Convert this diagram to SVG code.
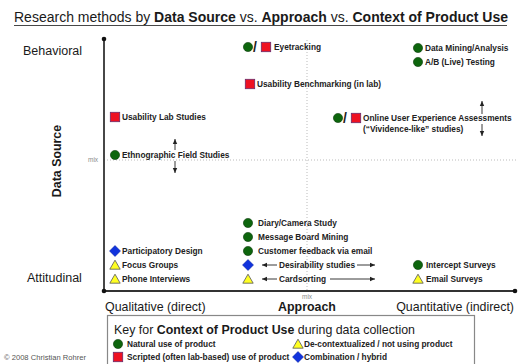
<svg xmlns="http://www.w3.org/2000/svg" xmlns:xlink="http://www.w3.org/1999/xlink" width="518" height="364" viewBox="0 0 518 364">
<style>
text{font-family:"Liberation Sans",Arial,sans-serif;fill:#1a1a1a}
.it{font-size:8.3px;font-weight:bold;fill:#222}
.b{font-weight:bold}
.ax{font-size:12.4px}
.mix{font-size:6.5px;fill:#8a8a8a}
.dot{stroke:#bbb;stroke-width:1;stroke-dasharray:1,2;fill:none}
.arr{stroke:#222;stroke-width:0.9;fill:none}
</style>
<defs>
<circle id="g" r="4.6" fill="#0d650d" stroke="#0a3a0a" stroke-width="0.6"/>
<rect id="r" x="-4.7" y="-4.7" width="9.4" height="9.4" fill="#ee1122" stroke="#6a2a6a" stroke-width="0.8"/>
<polygon id="d" points="0,-5.5 5.5,0 0,5.5 -5.5,0" fill="#1133dd" stroke="#001a99" stroke-width="0.5"/>
<polygon id="t" points="0,-4.8 5.2,4.2 -5.2,4.2" fill="#ffff22" stroke="#555" stroke-width="0.8"/>
<text id="sl" x="-2" y="4.5" style="font-size:14px;font-weight:bold;fill:#222">/</text>
<marker id="ah" markerWidth="6" markerHeight="6" refX="5" refY="3" orient="auto-start-reverse" markerUnits="userSpaceOnUse">
<path d="M0,0.8 L5,3 L0,5.2 Z" fill="#222"/>
</marker>
</defs>
<rect width="518" height="364" fill="#fff"/>
<g id="title">
<text x="14" y="22" style="font-size:14px">Research methods by <tspan class="b">Data Source</tspan> vs. <tspan class="b">Approach</tspan> vs. <tspan class="b">Context of Product Use</tspan></text>
<line x1="14" y1="25.5" x2="507" y2="25.5" stroke="#333" stroke-width="0.9"/>
</g>
<g id="axes">
<line class="dot" x1="104" y1="160" x2="518" y2="160"/>
<line class="dot" x1="307" y1="40" x2="307" y2="290"/>
<line x1="104" y1="39" x2="104" y2="291" stroke="#333" stroke-width="1.8"/>
<line x1="104" y1="291" x2="515" y2="291" stroke="#333" stroke-width="1.8"/>
<circle cx="104" cy="39" r="2.3" fill="#111"/>
<circle cx="104" cy="291" r="2.3" fill="#111"/>
<circle cx="515" cy="291" r="2.3" fill="#111"/>
<text class="mix" x="88" y="162">mix</text>
<text class="mix" x="302" y="299">mix</text>
<text x="23" y="55" style="font-size:12.5px">Behavioral</text>
<text x="27" y="282" style="font-size:12.5px">Attitudinal</text>
<text x="61" y="161" transform="rotate(-90 61 161)" text-anchor="middle" class="b" style="font-size:12.4px">Data Source</text>
<text class="ax" x="105" y="311">Qualitative (direct)</text>
<text class="ax b" x="307" y="311" text-anchor="middle">Approach</text>
<text class="ax" x="514" y="311" text-anchor="end">Quantitative (indirect)</text>
</g>
<g id="connectors">
<line class="arr" x1="175" y1="150" x2="175" y2="139" marker-end="url(#ah)"/>
<line class="arr" x1="175" y1="161" x2="175" y2="173" marker-end="url(#ah)"/>
<line class="arr" x1="482" y1="114" x2="482" y2="101" marker-end="url(#ah)"/>
<line class="arr" x1="482" y1="124" x2="482" y2="136" marker-end="url(#ah)"/>
<line class="arr" x1="277" y1="265" x2="262" y2="265" marker-end="url(#ah)"/>
<line class="arr" x1="357" y1="265" x2="375" y2="265" marker-end="url(#ah)"/>
<line class="arr" x1="277" y1="279" x2="262" y2="279" marker-end="url(#ah)"/>
<line class="arr" x1="330" y1="279" x2="375" y2="279" marker-end="url(#ah)"/>
</g>
<g id="eyetracking"><use href="#g" x="248" y="47"/><use href="#sl" x="255" y="47"/><use href="#r" x="266" y="47"/><text class="it" x="274" y="50">Eyetracking</text></g>
<g id="datamining"><use href="#g" x="418" y="48"/><text class="it" x="425" y="51">Data Mining/Analysis</text></g>
<g id="abtesting"><use href="#g" x="418" y="62"/><text class="it" x="425" y="65">A/B (Live) Testing</text></g>
<g id="benchmarking"><use href="#r" x="250" y="84"/><text class="it" x="257" y="87">Usability Benchmarking (in lab)</text></g>
<g id="online"><use href="#g" x="338" y="118"/><use href="#sl" x="345" y="118"/><use href="#r" x="356" y="118"/><text class="it" x="363" y="121">Online User Experience Assessments</text><text class="it" x="363" y="132">(“Vividence-like” studies)</text></g>
<g id="usabilitylab"><use href="#r" x="115" y="117"/><text class="it" x="122" y="120">Usability Lab Studies</text></g>
<g id="ethnographic"><use href="#g" x="115" y="155"/><text class="it" x="122" y="158">Ethnographic Field Studies</text></g>
<g id="diary"><use href="#g" x="248" y="223"/><text class="it" x="258" y="226">Diary/Camera Study</text></g>
<g id="messageboard"><use href="#g" x="248" y="237"/><text class="it" x="258" y="240">Message Board Mining</text></g>
<g id="feedback"><use href="#g" x="248" y="251"/><text class="it" x="258" y="254">Customer feedback via email</text></g>
<g id="desirability"><use href="#d" x="248" y="265"/><text class="it" x="279" y="268">Desirability studies</text></g>
<g id="cardsorting"><use href="#t" x="248" y="279"/><text class="it" x="279" y="282">Cardsorting</text></g>
<g id="intercept"><use href="#g" x="418" y="265"/><text class="it" x="426" y="268">Intercept Surveys</text></g>
<g id="email"><use href="#t" x="418" y="279"/><text class="it" x="426" y="282">Email Surveys</text></g>
<g id="participatory"><use href="#d" x="115" y="251"/><text class="it" x="122" y="254">Participatory Design</text></g>
<g id="focus"><use href="#t" x="115" y="265"/><text class="it" x="122" y="268">Focus Groups</text></g>
<g id="phone"><use href="#t" x="115" y="279"/><text class="it" x="122" y="282">Phone Interviews</text></g>
<g id="key">
<rect x="107.5" y="315.5" width="367" height="60" fill="#fff" stroke="#888" stroke-width="1.2"/>
<text x="114" y="334" style="font-size:12.4px">Key for <tspan class="b">Context of Product Use</tspan> during data collection</text>
<use href="#g" x="118" y="344"/><text class="it" x="127" y="347">Natural use of product</text>
<use href="#r" x="118" y="357"/><text class="it" x="127" y="360">Scripted (often lab-based) use of product</text>
<use href="#t" x="298" y="344"/><text class="it" x="304" y="347">De-contextualized / not using product</text>
<use href="#d" x="298" y="357"/><text class="it" x="304" y="360">Combination / hybrid</text>
</g>
<text id="copyright" x="4" y="360" style="font-size:7.6px;fill:#555">© 2008 Christian Rohrer</text>
</svg>
